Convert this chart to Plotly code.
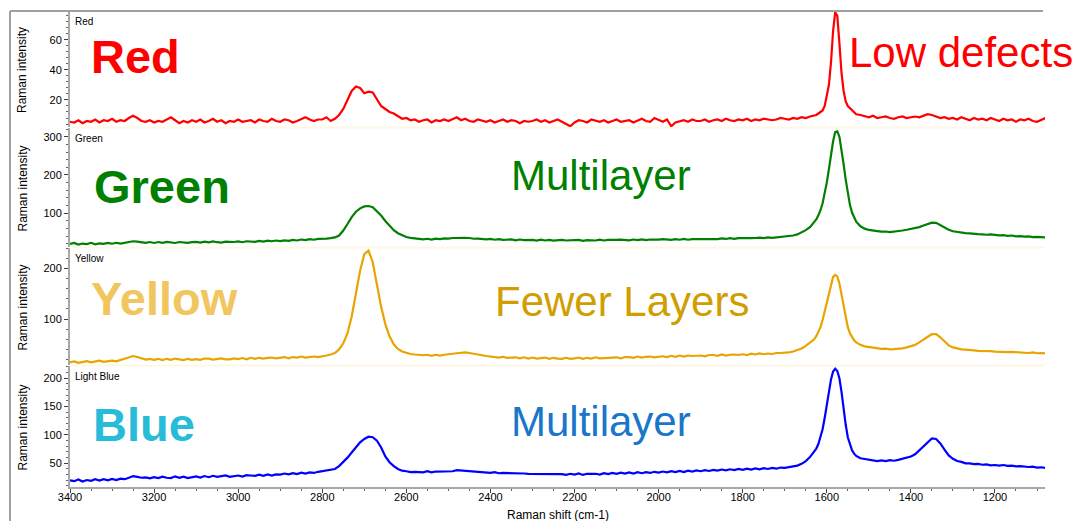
import plotly.graph_objects as go

# Raman shift sampling (cm-1): 10 cm-1 steps, 5 cm-1 around the G band
shift = list(range(3400, 1630, -10)) + list(range(1630, 1525, -5)) + list(range(1520, 1070, -10))

red = [
    5.5, 5, 6.5, 4.5, 6, 5.5, 7, 5, 6.5, 6,
    7.5, 5.5, 6.5, 6, 8, 9.5, 8, 6, 5.5, 6.5,
    5, 6, 5.5, 7, 8.5, 6.5, 4.5, 6, 5, 6.5,
    5.5, 7, 5, 6, 7.5, 5.5, 6.5, 4.5, 6, 5.5,
    7, 5.5, 6, 6.5, 5, 7, 6, 5.5, 7.5, 6,
    5.5, 7, 6.5, 5, 6, 7.5, 8.5, 7, 6, 7,
    7, 8.5, 6, 7.5, 10, 14, 20, 26, 29, 28,
    24.5, 25.5, 25, 20, 16, 14, 12, 11, 9, 7.5,
    8, 6.5, 7, 5.5, 6.5, 7, 5, 6.5, 6, 7,
    6, 7.5, 8.5, 6.5, 7.5, 6, 5.5, 7, 6, 5.5,
    6.5, 5, 6, 7, 5.5, 6.5, 6, 4.5, 6, 5.5,
    6, 7, 5.5, 6.5, 5, 6, 7, 5.5, 4, 2.5,
    5, 6.5, 6, 5, 7, 6, 5.5, 6.5, 5, 6,
    7, 5.5, 6, 6.5, 5, 6, 7.5, 6, 5.5, 8,
    6.5, 5.5, 7, 2.5, 5, 6, 6.5, 5.5, 7, 6,
    6, 7, 5.5, 6.5, 7, 6, 7.5, 6.5, 6, 7,
    6.5, 7.5, 6, 7, 6.5, 7.5, 7, 6.5, 7, 8,
    7.5, 7, 8, 7.5, 8.5, 8, 9,
    9.5, 10, 11, 12, 13, 16, 22, 30, 45, 66, 78.5, 76, 58, 38, 26, 19, 16, 14.5, 13, 11.5, 10.5,
    10, 9, 8.5, 9.5, 8, 8.5, 9, 8, 7.5, 8.5,
    9, 8, 8.5, 9, 8.5, 9.5, 10.5, 10, 9, 8,
    8.5, 7.5, 8, 7, 8.5, 7.5, 6.5, 8, 7, 7.5,
    6.5, 8, 7, 6, 7.5, 6.5, 7, 5.5, 7, 6.5,
    7.5, 6, 5.5, 7, 8,
]

green = [
    20, 22.5, 18.5, 21, 19.5, 23, 19, 21.5, 20, 22.5,
    20.5, 23, 21, 23.5, 24.5, 27, 26, 24, 23, 25,
    22.5, 25, 23, 25.5, 23.5, 22.5, 25, 24.5, 23, 24.5,
    25.5, 23.5, 26, 24, 26.5, 24.5, 23.5, 26, 25.5, 25,
    26.5, 24.5, 27, 26, 25.5, 28, 26, 28.5, 27, 29,
    27.5, 29.5, 28, 30.5, 29, 31.5, 30, 32.5, 31, 33,
    33, 34, 35, 37, 42, 55, 72, 90, 104, 113,
    118, 119, 116, 106, 94, 80, 67, 56, 48, 42,
    38, 36, 34, 33, 32, 33.5, 31.5, 34, 32.5, 34.5,
    34, 35.5, 36, 37, 36, 35.5, 33.5, 34, 32.5, 32,
    33, 31, 32.5, 30.5, 31, 32, 29.5, 31.5, 30, 30,
    30.5, 28.5, 31, 29, 30.5, 28.5, 29, 30.5, 29, 29.5,
    29, 30.5, 28, 30, 29.5, 29, 31, 29, 30.5, 30,
    30.5, 31.5, 30, 29.5, 31.5, 30, 32, 30, 31.5, 31,
    31.5, 32.5, 31, 30.5, 32.5, 31, 33, 31, 32.5, 32.5,
    33, 32.5, 32.5, 34, 32.5, 34.5, 33, 35, 33.5, 35,
    34.5, 35, 35, 35.5, 36.5, 35, 37, 36, 37, 37.5,
    38, 40, 42, 45, 50, 56, 64,
    76, 84, 95, 108, 126, 150, 180, 215, 252, 288, 312, 314, 300, 268, 228, 188, 150, 122, 102, 88, 78,
    66, 60, 56.5, 54, 53.5, 52, 52.5, 51, 52, 53,
    55, 57, 59.5, 61, 64, 68, 72, 75.5, 75, 69,
    62, 57, 53, 51, 49.5, 48, 47.5, 46, 45.5, 45,
    44, 45, 43, 42.5, 43, 41, 42, 40, 40.5, 39,
    39.5, 38, 38.5, 37.5, 37,
]

yellow = [
    14.5, 16.5, 13.5, 15.5, 17, 14.5, 16.5, 18, 15.5, 17.5,
    18, 16.5, 19, 20.5, 23, 27, 25, 22, 20, 21.5,
    19.5, 21.5, 19, 21.5, 19.5, 22, 20, 19, 21.5, 19.5,
    21, 19.5, 22, 22, 20, 21.5, 22.5, 20.5, 20.5, 22.5,
    21, 23, 20.5, 23.5, 21.5, 23.5, 22, 23.5, 24, 22.5,
    23.5, 25, 22.5, 25, 24, 26, 24, 25.5, 26, 25,
    26, 28, 30, 33, 40, 52, 72, 105, 150, 195,
    228, 235, 212, 168, 124, 90, 66, 50, 41, 36,
    33, 31, 30, 29, 28.5, 29.5, 27.5, 29.5, 28, 29.5,
    30, 31, 32.5, 33.5, 34, 33, 32, 30, 28.5, 27,
    26, 25.5, 24, 25.5, 23.5, 24, 24.5, 22.5, 24.5, 22,
    24, 22, 23.5, 24, 21.5, 23.5, 22, 21.5, 23.5, 21.5,
    22.5, 24, 21.5, 23.5, 22, 24.5, 22.5, 23, 24, 23.5,
    24.5, 22.5, 25, 25, 23.5, 26, 24, 25.5, 26, 24.5,
    26, 26.5, 25, 27.5, 25.5, 28, 26, 28, 27, 28,
    28, 26.5, 29, 29, 27.5, 30, 28, 29.5, 30, 29,
    30.5, 29, 31.5, 30, 32, 30.5, 32, 31, 33, 33,
    33.5, 34, 36, 39, 42, 47, 53,
    60, 66, 74, 84, 98, 115, 135, 155, 172, 183, 187, 184, 170, 148, 122, 100, 84, 72, 64, 58, 54,
    49, 46, 44.5, 43, 42.5, 41, 41.5, 40, 40.5, 41,
    42, 44, 46, 49, 54, 60, 65, 70, 70, 64,
    55, 48, 44, 41.5, 40, 39.5, 38, 38, 37, 37,
    36, 36.5, 35.5, 35, 35.5, 34.5, 35, 34, 34.5, 33.5,
    33, 34, 32.5, 33, 32,
]

light_blue = [
    20, 18.5, 21.5, 18, 20.5, 19, 22, 19.5, 22, 20,
    22.5, 20.5, 23, 22, 24.5, 27.5, 26, 24.5, 25, 23.5,
    25.5, 24, 26.5, 24.5, 24, 27, 24.5, 26.5, 24, 26,
    27, 25, 27.5, 25.5, 28, 26, 27, 28.5, 26, 27.5,
    28.5, 26.5, 29, 28.5, 28, 30, 28, 30.5, 28.5, 30.5,
    30, 32, 30.5, 32.5, 31, 33.5, 32, 34, 33, 35,
    36, 37, 38, 40, 45, 52, 60, 69, 78, 87,
    93, 97, 96, 90, 78, 62, 52, 45, 40, 37,
    36, 34.5, 35, 34.5, 34, 36, 34, 35.5, 35.5, 35.5,
    36.5, 36, 38, 37.5, 37, 36.5, 35, 35, 34.5, 34.5,
    33, 34.5, 32.5, 33, 33, 32.5, 32.5, 32, 32, 31.5,
    31.5, 31.5, 31, 31, 30.5, 30.5, 31, 31, 29.5, 31.5,
    30, 32, 29.5, 31.5, 31.5, 31.5, 30, 32.5, 31, 33,
    31.5, 33.5, 32, 34, 32, 34.5, 32.5, 34.5, 33, 35,
    33.5, 35.5, 34, 36, 34.5, 36.5, 34.5, 37, 35.5, 37.5,
    36, 38, 36.5, 38.5, 37, 39, 37.5, 39.5, 38, 40,
    38.5, 40.5, 39, 41, 39.5, 41.5, 40, 42, 40.5, 42.5,
    42, 43, 44, 46, 49, 54, 61,
    70, 76, 84, 95, 110, 130, 155, 180, 198, 212, 217, 213, 200, 176, 145, 118, 96, 82, 73, 67, 63,
    59, 57.5, 56, 55.5, 54, 55, 54, 55.5, 54.5, 56,
    58, 60, 62, 66, 73, 80, 87, 94, 93, 85,
    74, 64, 58, 54, 52.5, 50, 50, 48.5, 49, 47.5,
    48, 46.5, 47, 46, 47, 45.5, 46, 44.5, 45, 44,
    43.5, 44, 42.5, 43, 42,
]

for series in (red, green, yellow, light_blue):
    assert len(series) == len(shift), (len(series), len(shift))

W, H = 1078, 521
L, R, T, B = 70, 33, 11, 34
PW, PH = W - L - R, H - T - B
FONT = "Liberation Sans, Arial, sans-serif"


def px_x(x):
    return (x - L) / PW


def px_y(y):
    return (H - B - y) / PH


# panels top to bottom: (name, values, line colour, pixel top, pixel bottom, y range, dtick, minor dtick)
panels = [
    ("Red", red, "#FF0000", 11, 127, [2, 79.3], 20, 4),
    ("Green", green, "#008000", 128, 247, [12, 322.7], 100, 20),
    ("Yellow", yellow, "#E8A400", 248, 365, [9.3, 240], 100, 20),
    ("Light Blue", light_blue, "#0000FF", 366, 487, [8.2, 221.7], 50, 10),
]

fig = go.Figure()
layout = dict(
    width=W, height=H,
    margin=dict(l=L, r=R, t=T, b=B),
    paper_bgcolor="white", plot_bgcolor="white",
    showlegend=False,
    font=dict(family=FONT, size=11, color="#000000"),
)

annotations = []
for i, (name, vals, col, ytop, ybot, yr, dt, mdt) in enumerate(panels):
    yname = "y" if i == 0 else f"y{i + 1}"
    fig.add_trace(go.Scatter(
        x=shift, y=vals, mode="lines", xaxis="x", yaxis=yname,
        line=dict(color=col, width=2.2), hoverinfo="skip",
    ))
    key = "yaxis" if i == 0 else f"yaxis{i + 1}"
    layout[key] = dict(
        domain=[px_y(ybot), px_y(ytop)], range=yr, anchor="x",
        tick0=0, dtick=dt, ticks="outside", ticklen=4, tickcolor="#404040",
        minor=dict(dtick=mdt, ticks="outside", ticklen=2, tickcolor="#606060"),
        showline=True, linecolor="#A8A8A8", linewidth=2,
        showgrid=False, zeroline=False, automargin=False,
        tickfont=dict(size=11, color="#000000"),
    )
    # small panel name in the top-left corner
    annotations.append(dict(
        text=name, xref="paper", yref="paper", x=px_x(73), y=px_y(ytop + 3),
        showarrow=False, xanchor="left", yanchor="top",
        font=dict(size=10, color="#000000"),
    ))
    annotations.append(dict(
        text="Raman intensity", xref="paper", yref="paper",
        x=px_x(22), y=px_y((ytop + ybot) / 2 + 1), textangle=-90,
        showarrow=False, xanchor="center", yanchor="middle",
        font=dict(size=12, color="#000000"),
    ))

layout["xaxis"] = dict(
    domain=[0, 1], range=[3400, 1081], anchor="y4",
    tick0=0, dtick=200, ticks="outside", ticklen=4, tickcolor="#404040",
    minor=dict(dtick=50, ticks="outside", ticklen=2, tickcolor="#606060"),
    showline=True, linecolor="#A8A8A8", linewidth=2,
    showgrid=False, zeroline=False, automargin=False,
    ticklabelstandoff=-5,
    tickfont=dict(size=11, color="#000000"),
)
annotations.append(dict(
    text="Raman shift (cm-1)", xref="paper", yref="paper", x=px_x(558), y=px_y(515),
    showarrow=False, xanchor="center", yanchor="middle",
    font=dict(size=12, color="#000000"),
))

# big coloured labels and comments
labels = [
    ("<b>Red</b>", 135, 56.5, 47, "#FF0000"),
    ("<b>Green</b>", 161.5, 186.5, 47, "#008000"),
    ("<b>Yellow</b>", 164, 298.5, 47, "#F2C65E"),
    ("<b>Blue</b>", 144, 424, 47, "#28BCD8"),
    ("Low defects", 960.5, 52, 42, "#FF0000"),
    ("Multilayer", 601, 175, 42, "#008000"),
    ("Fewer Layers", 621.5, 301, 42, "#D09E00"),
    ("Multilayer", 600.5, 421, 42, "#1976C8"),
]
for text, cx, cy, size, col in labels:
    annotations.append(dict(
        text=text, xref="paper", yref="paper", x=px_x(cx), y=px_y(cy),
        showarrow=False, xanchor="center", yanchor="middle",
        font=dict(size=size, color=col, family=FONT),
    ))

shapes = []
# light separators between panels
for ysep in (127.5, 247.5, 365.5):
    shapes.append(dict(
        type="line", xref="paper", yref="paper", x0=px_x(71), x1=1, y0=px_y(ysep), y1=px_y(ysep),
        line=dict(color="#FFF7E6", width=2), layer="below",
    ))
# outer frame
shapes.append(dict(type="line", xref="paper", yref="paper", x0=px_x(10), x1=px_x(1043),
                   y0=px_y(11), y1=px_y(11), line=dict(color="#A0A0A0", width=2)))
shapes.append(dict(type="line", xref="paper", yref="paper", x0=px_x(10), x1=px_x(10),
                   y0=px_y(11), y1=px_y(521), line=dict(color="#A0A0A0", width=2)))

layout["annotations"] = annotations
layout["shapes"] = shapes
fig.update_layout(**layout)

fig.write_html("out.html")
